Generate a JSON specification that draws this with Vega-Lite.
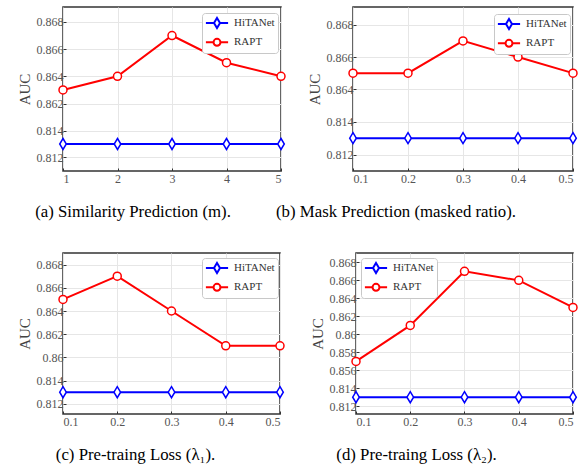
{
  "$schema": "https://vega.github.io/schema/vega-lite/v6.json",
  "padding": {"left": 16, "top": 6, "right": 0, "bottom": 0},
  "background": "white",
  "config": {
    "view": {"stroke": "#333333", "strokeWidth": 1.5},
    "axis": {
      "labelFont": "Liberation Serif", "labelFontSize": 12, "labelColor": "#555555",
      "titleFont": "Liberation Serif", "titleFontSize": 15, "titleFontWeight": "normal", "titleColor": "#444444",
      "gridColor": "#e6e6e6", "gridWidth": 1, "tickColor": "#333333", "tickSize": -3, "domain": false, "labelPadding": 3
    },
    "axisX": {"labelPadding": 5},
    "title": {"font": "Liberation Serif", "fontSize": 16.8, "fontWeight": "normal", "color": "#000000", "orient": "bottom", "anchor": "middle", "offset": 20},
    "legend": {
      "title": null, "fillColor": "white", "strokeColor": "#c8c8c8", "padding": 3, "cornerRadius": 3,
      "labelFont": "Liberation Serif", "labelFontSize": 11, "labelColor": "#333333",
      "symbolSize": 144, "symbolStrokeWidth": 2, "symbolFillColor": "white", "rowPadding": 1.3, "symbolOffset": 5, "labelOffset": 10, "orient": "none"
    }
  },
  "data": {"values": [
    {"p": "a", "x": 1, "m": "HiTANet", "auc": 0.813}, {"p": "a", "x": 2, "m": "HiTANet", "auc": 0.813}, {"p": "a", "x": 3, "m": "HiTANet", "auc": 0.813}, {"p": "a", "x": 4, "m": "HiTANet", "auc": 0.813}, {"p": "a", "x": 5, "m": "HiTANet", "auc": 0.813},
    {"p": "a", "x": 1, "m": "RAPT", "auc": 0.863}, {"p": "a", "x": 2, "m": "RAPT", "auc": 0.864}, {"p": "a", "x": 3, "m": "RAPT", "auc": 0.867}, {"p": "a", "x": 4, "m": "RAPT", "auc": 0.865}, {"p": "a", "x": 5, "m": "RAPT", "auc": 0.864},
    {"p": "b", "x": 0.1, "m": "HiTANet", "auc": 0.813}, {"p": "b", "x": 0.2, "m": "HiTANet", "auc": 0.813}, {"p": "b", "x": 0.3, "m": "HiTANet", "auc": 0.813}, {"p": "b", "x": 0.4, "m": "HiTANet", "auc": 0.813}, {"p": "b", "x": 0.5, "m": "HiTANet", "auc": 0.813},
    {"p": "b", "x": 0.1, "m": "RAPT", "auc": 0.865}, {"p": "b", "x": 0.2, "m": "RAPT", "auc": 0.865}, {"p": "b", "x": 0.3, "m": "RAPT", "auc": 0.867}, {"p": "b", "x": 0.4, "m": "RAPT", "auc": 0.866}, {"p": "b", "x": 0.5, "m": "RAPT", "auc": 0.865},
    {"p": "c", "x": 0.1, "m": "HiTANet", "auc": 0.813}, {"p": "c", "x": 0.2, "m": "HiTANet", "auc": 0.813}, {"p": "c", "x": 0.3, "m": "HiTANet", "auc": 0.813}, {"p": "c", "x": 0.4, "m": "HiTANet", "auc": 0.813}, {"p": "c", "x": 0.5, "m": "HiTANet", "auc": 0.813},
    {"p": "c", "x": 0.1, "m": "RAPT", "auc": 0.865}, {"p": "c", "x": 0.2, "m": "RAPT", "auc": 0.867}, {"p": "c", "x": 0.3, "m": "RAPT", "auc": 0.864}, {"p": "c", "x": 0.4, "m": "RAPT", "auc": 0.861}, {"p": "c", "x": 0.5, "m": "RAPT", "auc": 0.861},
    {"p": "d", "x": 0.1, "m": "HiTANet", "auc": 0.813}, {"p": "d", "x": 0.2, "m": "HiTANet", "auc": 0.813}, {"p": "d", "x": 0.3, "m": "HiTANet", "auc": 0.813}, {"p": "d", "x": 0.4, "m": "HiTANet", "auc": 0.813}, {"p": "d", "x": 0.5, "m": "HiTANet", "auc": 0.813},
    {"p": "d", "x": 0.1, "m": "RAPT", "auc": 0.857}, {"p": "d", "x": 0.2, "m": "RAPT", "auc": 0.861}, {"p": "d", "x": 0.3, "m": "RAPT", "auc": 0.867}, {"p": "d", "x": 0.4, "m": "RAPT", "auc": 0.866}, {"p": "d", "x": 0.5, "m": "RAPT", "auc": 0.863}
  ]},
  "spacing": 30,
  "vconcat": [
    {
      "spacing": 72,
      "bounds": "flush",
      "hconcat": [
        {
          "width": 218, "height": 164,
          "title": {"text": "(a)  Similarity Prediction (m).", "dx": -39},
          "transform": [{"filter": "datum.p === 'a'"}],
          "encoding": {
            "x": {"field": "x", "type": "quantitative", "scale": {"domain": [1, 5], "nice": false, "zero": false}, "axis": {"title": null, "values": [1, 2, 3, 4, 5], "format": "d"}},
            "y": {"field": "auc", "type": "quantitative", "scale": {"domain": [0.811, 0.814, 0.862, 0.8691], "range": [164, 123.5, 96.5, 0], "nice": false, "zero": false}, "axis": {"title": "AUC", "values": [0.812, 0.814, 0.862, 0.864, 0.866, 0.868], "labelExpr": "'' + datum.value"}}
          },
          "layer": [
            {"mark": {"type": "line", "strokeWidth": 2}, "encoding": {"color": {"field": "m", "type": "nominal", "scale": {"domain": ["HiTANet", "RAPT"], "range": ["#0000ff", "#ff0000"]}, "legend": {"legendX": 139, "legendY": 6, "encode": {"symbols": {"update": {"shape": {"signal": "datum.value === 'HiTANet' ? 'M-1.85,0L-0.5,0M0.5,0L1.85,0M0,-0.85L0.5,0L0,0.85L-0.5,0Z' : 'M-1.85,0L-0.58,0M0.58,0L1.85,0M0.58,0A0.58,0.58 0 1,1 -0.58,0A0.58,0.58 0 1,1 0.58,0Z'"}, "fill": {"value": "white"}, "fillOpacity": {"value": 1}}}}}}}},
            {"transform": [{"filter": "datum.m === 'HiTANet'"}], "mark": {"type": "point", "filled": true, "fill": "white", "stroke": "#0000ff", "opacity": 1, "strokeWidth": 1.5, "shape": "M0,-1L0.6,0L0,1L-0.6,0Z", "size": 121}},
            {"transform": [{"filter": "datum.m === 'RAPT'"}], "mark": {"type": "point", "filled": true, "fill": "white", "stroke": "#ff0000", "opacity": 1, "strokeWidth": 1.5, "shape": "circle", "size": 64}}
          ]
        },
        {
          "width": 220, "height": 164,
          "title": {"text": "(b)  Mask Prediction (masked ratio).", "dx": -67},
          "transform": [{"filter": "datum.p === 'b'"}],
          "encoding": {
            "x": {"field": "x", "type": "quantitative", "scale": {"domain": [0.1, 0.5], "nice": false, "zero": false}, "axis": {"title": null, "values": [0.1, 0.2, 0.3, 0.4, 0.5], "format": ".1f"}},
            "y": {"field": "auc", "type": "quantitative", "scale": {"domain": [0.811, 0.814, 0.864, 0.8691], "range": [164, 114.7, 82.3, 0], "nice": false, "zero": false}, "axis": {"title": "AUC", "values": [0.812, 0.814, 0.864, 0.866, 0.868], "labelExpr": "'' + datum.value"}}
          },
          "layer": [
            {"mark": {"type": "line", "strokeWidth": 2}, "encoding": {"color": {"field": "m", "type": "nominal", "scale": {"domain": ["HiTANet", "RAPT"], "range": ["#0000ff", "#ff0000"]}, "legend": {"legendX": 141, "legendY": 7, "encode": {"symbols": {"update": {"shape": {"signal": "datum.value === 'HiTANet' ? 'M-1.85,0L-0.5,0M0.5,0L1.85,0M0,-0.85L0.5,0L0,0.85L-0.5,0Z' : 'M-1.85,0L-0.58,0M0.58,0L1.85,0M0.58,0A0.58,0.58 0 1,1 -0.58,0A0.58,0.58 0 1,1 0.58,0Z'"}, "fill": {"value": "white"}, "fillOpacity": {"value": 1}}}}}}}},
            {"transform": [{"filter": "datum.m === 'HiTANet'"}], "mark": {"type": "point", "filled": true, "fill": "white", "stroke": "#0000ff", "opacity": 1, "strokeWidth": 1.5, "shape": "M0,-1L0.6,0L0,1L-0.6,0Z", "size": 121}},
            {"transform": [{"filter": "datum.m === 'RAPT'"}], "mark": {"type": "point", "filled": true, "fill": "white", "stroke": "#ff0000", "opacity": 1, "strokeWidth": 1.5, "shape": "circle", "size": 64}}
          ]
        }
      ],
      "resolve": {"scale": {"color": "independent"}, "legend": {"color": "independent"}}
    },
    {
      "spacing": 76,
      "bounds": "flush",
      "hconcat": [
        {
          "width": 217, "height": 161,
          "title": {"text": "(c)  Pre-traing Loss (λ₁).", "dx": -36},
          "transform": [{"filter": "datum.p === 'c'"}],
          "encoding": {
            "x": {"field": "x", "type": "quantitative", "scale": {"domain": [0.1, 0.5], "nice": false, "zero": false}, "axis": {"title": null, "values": [0.1, 0.2, 0.3, 0.4, 0.5], "format": ".1f"}},
            "y": {"field": "auc", "type": "quantitative", "scale": {"domain": [0.8111, 0.814, 0.86, 0.869], "range": [161, 127.7, 104.4, 0], "nice": false, "zero": false}, "axis": {"title": "AUC", "values": [0.812, 0.814, 0.86, 0.862, 0.864, 0.866, 0.868], "labelExpr": "'' + datum.value"}}
          },
          "layer": [
            {"mark": {"type": "line", "strokeWidth": 2}, "encoding": {"color": {"field": "m", "type": "nominal", "scale": {"domain": ["HiTANet", "RAPT"], "range": ["#0000ff", "#ff0000"]}, "legend": {"legendX": 139, "legendY": 5, "encode": {"symbols": {"update": {"shape": {"signal": "datum.value === 'HiTANet' ? 'M-1.85,0L-0.5,0M0.5,0L1.85,0M0,-0.85L0.5,0L0,0.85L-0.5,0Z' : 'M-1.85,0L-0.58,0M0.58,0L1.85,0M0.58,0A0.58,0.58 0 1,1 -0.58,0A0.58,0.58 0 1,1 0.58,0Z'"}, "fill": {"value": "white"}, "fillOpacity": {"value": 1}}}}}}}},
            {"transform": [{"filter": "datum.m === 'HiTANet'"}], "mark": {"type": "point", "filled": true, "fill": "white", "stroke": "#0000ff", "opacity": 1, "strokeWidth": 1.5, "shape": "M0,-1L0.6,0L0,1L-0.6,0Z", "size": 121}},
            {"transform": [{"filter": "datum.m === 'RAPT'"}], "mark": {"type": "point", "filled": true, "fill": "white", "stroke": "#ff0000", "opacity": 1, "strokeWidth": 1.5, "shape": "circle", "size": 64}}
          ]
        },
        {
          "width": 217, "height": 161,
          "title": {"text": "(d)  Pre-traing Loss (λ₂).", "dx": -48},
          "transform": [{"filter": "datum.p === 'd'"}],
          "encoding": {
            "x": {"field": "x", "type": "quantitative", "scale": {"domain": [0.1, 0.5], "nice": false, "zero": false}, "axis": {"title": null, "values": [0.1, 0.2, 0.3, 0.4, 0.5], "format": ".1f"}},
            "y": {"field": "auc", "type": "quantitative", "scale": {"domain": [0.8111, 0.814, 0.856, 0.86904], "range": [161, 135.4, 117.4, 0], "nice": false, "zero": false}, "axis": {"title": "AUC", "values": [0.812, 0.814, 0.856, 0.858, 0.86, 0.862, 0.864, 0.866, 0.868], "labelExpr": "'' + datum.value"}}
          },
          "layer": [
            {"mark": {"type": "line", "strokeWidth": 2}, "encoding": {"color": {"field": "m", "type": "nominal", "scale": {"domain": ["HiTANet", "RAPT"], "range": ["#0000ff", "#ff0000"]}, "legend": {"legendX": 5, "legendY": 5, "encode": {"symbols": {"update": {"shape": {"signal": "datum.value === 'HiTANet' ? 'M-1.85,0L-0.5,0M0.5,0L1.85,0M0,-0.85L0.5,0L0,0.85L-0.5,0Z' : 'M-1.85,0L-0.58,0M0.58,0L1.85,0M0.58,0A0.58,0.58 0 1,1 -0.58,0A0.58,0.58 0 1,1 0.58,0Z'"}, "fill": {"value": "white"}, "fillOpacity": {"value": 1}}}}}}}},
            {"transform": [{"filter": "datum.m === 'HiTANet'"}], "mark": {"type": "point", "filled": true, "fill": "white", "stroke": "#0000ff", "opacity": 1, "strokeWidth": 1.5, "shape": "M0,-1L0.6,0L0,1L-0.6,0Z", "size": 121}},
            {"transform": [{"filter": "datum.m === 'RAPT'"}], "mark": {"type": "point", "filled": true, "fill": "white", "stroke": "#ff0000", "opacity": 1, "strokeWidth": 1.5, "shape": "circle", "size": 64}}
          ]
        }
      ],
      "resolve": {"scale": {"color": "independent"}, "legend": {"color": "independent"}}
    }
  ],
  "resolve": {"scale": {"color": "independent"}, "legend": {"color": "independent"}}
}
